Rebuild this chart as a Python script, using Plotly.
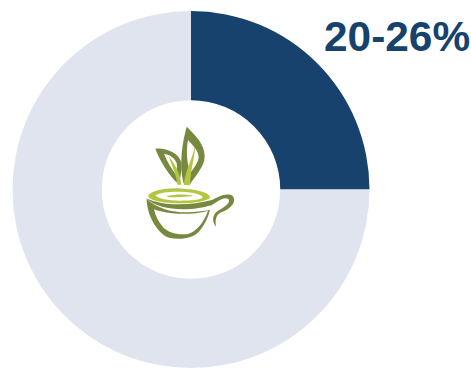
import plotly.graph_objects as go

W, H = 471, 368

slice_labels = ["20-26%", "Remainder"]
slice_values = [25, 75]
slice_colors = ["#17426D", "#DFE4EF"]
headline = "20-26%"

OLIVE = "#76893F"
LIME = "#B4C640"
WHITE = "#FFFFFF"

# Cup-and-leaves emblem outlines, in a 3x local grid anchored at (130, 110).
EMBLEM = [
    # right leaf
    (OLIVE, "M170 50 C192 72 224 100 224 138 C224 170 197 196 178 225 L162 222 C152 190 148 130 170 50 Z"),
    (WHITE, "M174 90 C188 106 206 122 206 142 C204 160 190 176 180 190 C174 165 166 130 174 90 Z"),
    (LIME, "M195 108 C196 140 182 172 180 226 L162 225 C162 190 186 150 195 108 Z"),
    # left leaf
    (OLIVE, "M76 116 C105 112 148 128 154 158 C157 180 150 200 148 222 L136 214 C120 195 92 160 76 116 Z"),
    (WHITE, "M102 132 C120 134 134 144 140 160 C142 172 140 184 138 194 C125 178 112 155 102 132 Z"),
    (LIME, "M116 138 C132 160 150 185 154 224 L142 224 C140 195 126 170 116 138 Z"),
    # cup body
    (OLIVE, "M50 266 C50 318 85 374 120 384 C150 390 190 386 208 364 C224 344 234 324 240 300 "
            "C225 302 215 304 190 306 C140 310 85 300 50 266 Z"),
    (WHITE, "M72 298 C105 312 180 318 234 302 C222 336 200 364 174 372 C140 376 112 366 98 350 "
            "C86 336 76 318 72 298 Z"),
    # rim band
    (OLIVE, "M48 264 C90 288 180 288 246 270 L246 284 C190 304 90 306 48 264 Z"),
    # handle
    (OLIVE, "M240 274 C262 260 292 246 308 258 C322 276 300 298 276 306 C262 312 254 322 258 350 "
            "C246 336 246 316 262 304 C282 292 302 280 296 268 C284 258 262 274 242 288 Z"),
    # tea surface
    (LIME, "M54 258 C62 242 110 232 160 236 C205 238 242 250 240 262 C238 272 200 280 150 280 "
           "C100 280 58 272 54 258 Z"),
    (WHITE, "M76 256 C92 246 130 244 165 246 C192 248 218 254 218 262 C212 270 185 272 150 272 "
            "C112 272 86 266 76 256 Z"),
    (LIME, "M112 258 C140 252 170 252 192 258 C170 260 140 262 112 262 Z"),
]


def to_page(path):
    """Convert an outline from the emblem's local grid to page pixels."""
    out, is_x = [], True
    for tok in path.split():
        head = tok[0] if tok[0].isalpha() else ""
        num = tok[len(head):]
        if not num:
            out.append(head)
            continue
        val = float(num) / 3 + (130 if is_x else 110)
        out.append(f"{head}{val:.2f}")
        is_x = not is_x
    return " ".join(out)


fig = go.Figure(
    go.Pie(
        labels=slice_labels,
        values=slice_values,
        hole=0.5,
        sort=False,
        direction="clockwise",
        rotation=0,
        marker=dict(colors=slice_colors, line=dict(width=0)),
        textinfo="none",
        hoverinfo="skip",
        showlegend=False,
        domain=dict(x=[11.5 / W, 370.5 / W], y=[0, 1 - 11 / H]),
    )
)

# Pixel-aligned hidden axes carry the emblem and the headline.
fig.add_trace(go.Scatter(x=[], y=[], showlegend=False, hoverinfo="skip"))
fig.update_layout(
    width=W,
    height=H,
    margin=dict(l=0, r=0, t=0, b=0),
    paper_bgcolor="white",
    plot_bgcolor="rgba(0,0,0,0)",
    showlegend=False,
    xaxis=dict(range=[0, W], visible=False, fixedrange=True),
    yaxis=dict(range=[H, 0], visible=False, fixedrange=True),
    shapes=[
        dict(type="path", xref="x", yref="y", path=to_page(p), fillcolor=c,
             line=dict(width=0), layer="above")
        for c, p in EMBLEM
    ],
    annotations=[
        dict(
            x=470, y=36.5, xref="x", yref="y", xshift=2,
            xanchor="right", yanchor="middle",
            text=f"<b>{headline}</b>", showarrow=False,
            font=dict(family="Liberation Sans, Arial, sans-serif", size=42.4, color="#17426D"),
        )
    ],
)

fig.write_html("out.html", config=dict(displayModeBar=False))
